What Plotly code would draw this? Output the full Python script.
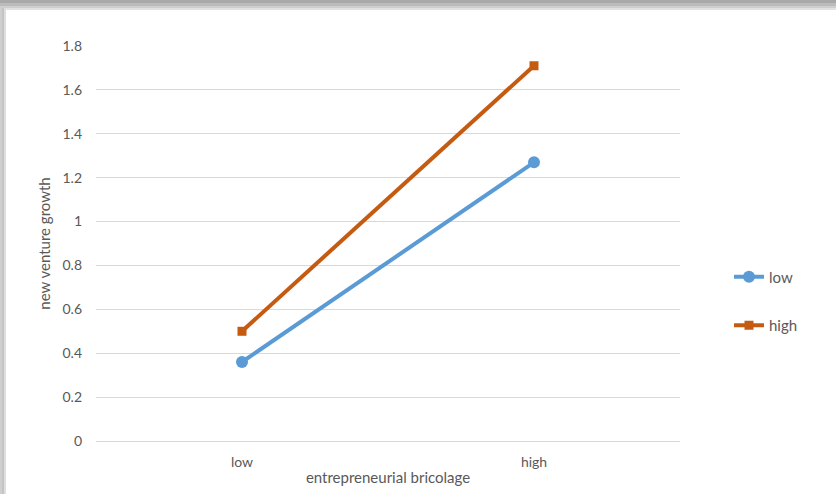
import plotly.graph_objects as go

categories = ["low", "high"]
series_names = ["low", "high"]
low_values = [0.36, 1.27]
high_values = [0.50, 1.71]
y_ticks = [0, 0.2, 0.4, 0.6, 0.8, 1, 1.2, 1.4, 1.6, 1.8]
y_tick_labels = ["0", "0.2", "0.4", "0.6", "0.8", "1", "1.2", "1.4", "1.6", "1.8"]

FONT = "Lato, Open Sans, sans-serif"
GREY = "#595959"

fig = go.Figure()
fig.add_trace(go.Scatter(
    x=[0, 1], y=low_values, name=series_names[0], mode="lines+markers",
    line=dict(color="#5B9BD5", width=4),
    marker=dict(symbol="circle", size=12, color="#5B9BD5"),
    legendgroup="a",
))
fig.add_trace(go.Scatter(
    x=[0, 1], y=high_values, name=series_names[1], mode="lines+markers",
    line=dict(color="#C55A11", width=4),
    marker=dict(symbol="square", size=9, color="#C55A11"),
    legendgroup="b",
))

L, R, T, B = 96, 156, 46, 53
W, H = 836, 494
pw, ph = W - L - R, H - T - B

def px_x(px):
    return (px - L) / pw

def px_y(py):
    return (H - B - py) / ph

shapes = []
top_bands = [(0, 3, "#a9a9a9"), (3, 6, "#bcbcbc"), (6, 8, "#cfcfcf"), (8, 10, "#e2e2e2")]
for y0, y1, c in top_bands:
    shapes.append(dict(type="rect", xref="paper", yref="paper",
                       x0=px_x(0), x1=px_x(W), y0=px_y(y1), y1=px_y(y0),
                       fillcolor=c, line=dict(width=0), layer="below"))
left_bands = [(0, 2, "#cfcfcf"), (2, 4, "#c4c4c4"), (4, 6, "#dedede")]
for x0, x1, c in left_bands:
    shapes.append(dict(type="rect", xref="paper", yref="paper",
                       x0=px_x(x0), x1=px_x(x1), y0=px_y(H), y1=px_y(8),
                       fillcolor=c, line=dict(width=0), layer="below"))

fig.update_layout(
    width=W, height=H,
    margin=dict(l=L, r=R, t=T, b=B),
    paper_bgcolor="white", plot_bgcolor="white",
    font=dict(family=FONT, size=14, color=GREY),
    shapes=shapes,
    showlegend=True,
    legend=dict(x=px_x(729), y=px_y(301), xanchor="left", yanchor="middle",
                font=dict(size=15, color=GREY), tracegroupgap=26,
                traceorder="grouped", bgcolor="rgba(0,0,0,0)"),
    xaxis=dict(range=[-0.5, 1.5], tickmode="array", tickvals=[0, 1], ticktext=categories,
               showgrid=False, zeroline=False, showline=True, linecolor="#d9d9d9", linewidth=1,
               ticks="", ticklabelstandoff=8, tickfont=dict(size=14, color=GREY), automargin=False,
               title=dict(text="entrepreneurial bricolage", font=dict(size=15, color=GREY), standoff=3)),
    yaxis=dict(range=[0, 1.8], tickmode="array", tickvals=y_ticks, ticktext=y_tick_labels,
               showgrid=True, gridcolor="#d9d9d9", gridwidth=1, zeroline=False, showline=False,
               ticks="", ticklabelstandoff=13, tickfont=dict(size=14, color=GREY), automargin=False,
               title=dict(text="new venture growth", font=dict(size=15, color=GREY), standoff=8)),
)

fig.write_html("out.html")
